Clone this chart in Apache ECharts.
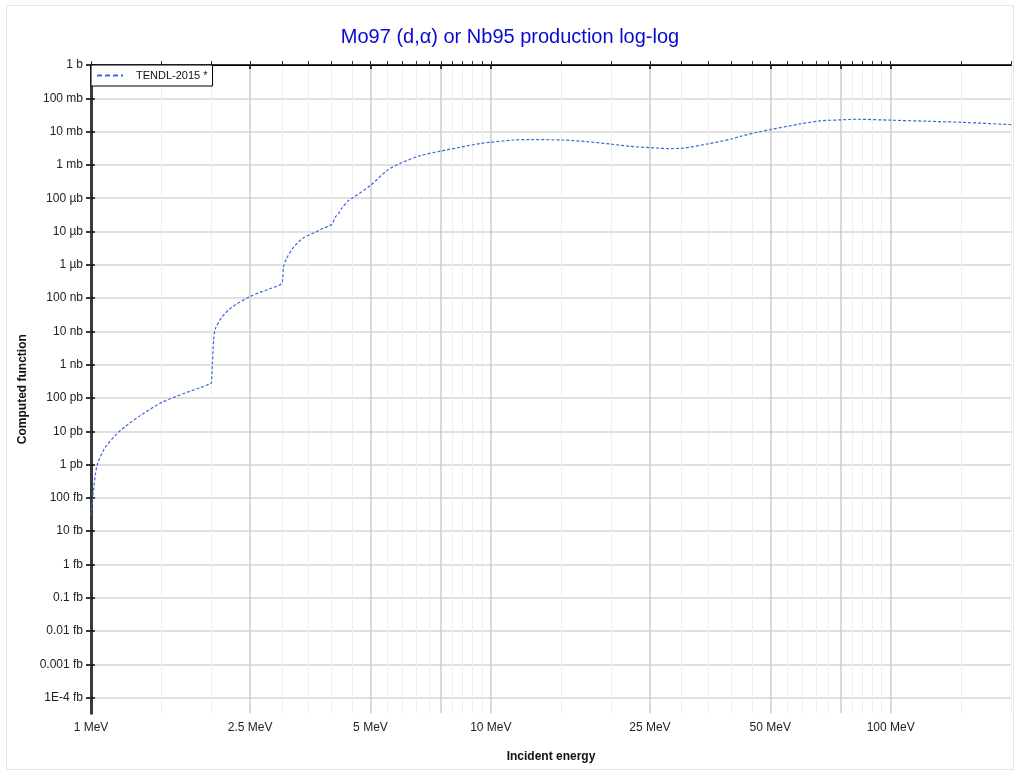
<!DOCTYPE html>
<html>
<head>
<meta charset="utf-8">
<title>Mo97 (d,α) or Nb95 production log-log</title>
<script src="https://cdn.jsdelivr.net/npm/echarts@6/dist/echarts.min.js"></script>
<style>
  html, body { margin: 0; padding: 0; background: #fff; }
  #chart { width: 1020px; height: 774px; }
</style>
</head>
<body>
<div id="chart"></div>
<script>
// incident energy (MeV) and cross section (barn)
const energyMeV = [1.0, 1.009, 1.035, 1.086, 1.184, 1.328, 1.505, 1.738, 1.877, 1.99,
  2.0, 2.012, 2.026, 2.046, 2.127, 2.253, 2.5, 2.755, 3.0, 3.03,
  3.08, 3.213, 3.402, 3.64, 3.745, 4.0, 4.083, 4.163, 4.246, 4.41,
  4.5, 5.0, 5.5, 5.94, 6.66, 7.5, 8.39, 9.41, 10, 11.4,
  12.56, 15, 17.4, 20, 22.3, 25, 27.6, 30, 35, 40,
  42.1, 47.2, 50, 59.4, 66.7, 75, 82.4, 100, 123.3, 150,
  200];
const sigmaBarn = [3.0e-14, 9.3e-14, 9.3e-13, 3.3e-12, 1.05e-11, 2.95e-11, 7.4e-11, 1.48e-10, 2.04e-10, 2.7e-10,
  2.8e-10, 1.07e-9, 5.4e-9, 1.2e-8, 2.7e-8, 5.4e-8, 1.12e-7, 1.78e-7, 2.8e-7, 8.5e-7,
  1.5e-6, 3.4e-6, 6.5e-6, 9.5e-6, 1.15e-5, 1.62e-5, 2.7e-5, 3.5e-5, 5.1e-5, 8.5e-5,
  1.0e-4, 2.4e-4, 6.8e-4, 1.12e-3, 1.9e-3, 2.6e-3, 3.4e-3, 4.4e-3, 4.8e-3, 5.6e-3,
  5.75e-3, 5.6e-3, 5.0e-3, 4.2e-3, 3.6e-3, 3.3e-3, 3.1e-3, 3.15e-3, 4.3e-3, 6.0e-3,
  7.2e-3, 1.0e-2, 1.15e-2, 1.7e-2, 2.1e-2, 2.25e-2, 2.35e-2, 2.2e-2, 2.05e-2, 1.9e-2,
  1.62e-2];

// axis ticks
const xLabelMeV = [1, 2.5, 5, 10, 25, 50, 100];
const xMajorMeV = [1, 2.5, 5, 7.5, 10, 25, 50, 75, 100];
const xMinorMeV = [1.5, 2, 3, 3.5, 4, 4.5, 5.5, 6, 6.5, 7, 8, 8.5, 9, 9.5,
  15, 20, 30, 35, 40, 45, 55, 60, 65, 70, 80, 85, 90, 95, 150, 200];
const yDecades = [-19, -18, -17, -16, -15, -14, -13, -12, -11, -10, -9, -8, -7, -6, -5, -4, -3, -2, -1, 0];
const yTickLabels = ['1E-4 fb', '0.001 fb', '0.01 fb', '0.1 fb', '1 fb', '10 fb', '100 fb',
  '1 pb', '10 pb', '100 pb', '1 nb', '10 nb', '100 nb', '1 µb', '10 µb', '100 µb',
  '1 mb', '10 mb', '100 mb', '1 b'];

const lg = v => Math.log10(v);
const xMin = 0, xMax = lg(200);
const yMin = -19.47, yMax = 0;
const font = '"Liberation Sans", Arial, sans-serif';

const chart = echarts.init(document.getElementById('chart'), null, { renderer: 'canvas' });

const baseX = {
  type: 'value', gridIndex: 0, min: xMin, max: xMax,
  axisLabel: { show: false },
  splitLine: { show: false },
  axisLine: { show: false },
  axisTick: { show: false }
};
const baseY = {
  type: 'value', gridIndex: 0, min: yMin, max: yMax,
  axisLabel: { show: false },
  splitLine: { show: false },
  axisLine: { show: false },
  axisTick: { show: false }
};

const option = {
  backgroundColor: '#fff',
  animation: false,
  title: {
    text: 'Mo97 (d,α) or Nb95 production log-log',
    left: 'center', top: 22,
    textStyle: { color: '#0a0acc', fontSize: 20, fontWeight: 'normal', fontFamily: font }
  },
  legend: {
    left: 91, top: 65,
    orient: 'vertical',
    backgroundColor: '#fff',
    borderColor: '#000', borderWidth: 1, borderRadius: 0,
    padding: [5, 5, 5, 5],
    itemWidth: 26, itemHeight: 12,
    textStyle: { fontSize: 11, color: '#111', fontFamily: font, padding: [0, 0, 0, 8] },
    itemStyle: { opacity: 0 },
    lineStyle: { width: 2, type: [5, 3] },
    data: ['TENDL-2015 *']
  },
  grid: { left: 91, right: 9, top: 65, bottom: 60.7, containLabel: false },
  xAxis: [
    // labels, major ticks (outside), major grid lines
    Object.assign({}, baseX, {
      position: 'bottom',
      name: 'Incident energy', nameLocation: 'middle', nameGap: 37,
      nameTextStyle: { fontSize: 12, fontWeight: 'bold', color: '#111', fontFamily: font },
      axisLine: { show: true, lineStyle: { color: '#000', width: 1.5 } },
      axisTick: { show: true, inside: false, length: 4, customValues: xMajorMeV.map(lg), lineStyle: { color: '#000', width: 1.5 } },
      axisLabel: {
        show: true, customValues: xLabelMeV.map(lg), margin: 8,
        fontSize: 12, color: '#222', fontFamily: font,
        formatter: v => (Math.round(Math.pow(10, v) * 10) / 10) + ' MeV'
      },
      splitLine: { show: true, lineStyle: { color: '#cdcdcd', width: 1.5 } }
    }),
    // minor grid lines
    Object.assign({}, baseX, {
      position: 'bottom',
      axisTick: { show: false, customValues: xMinorMeV.map(lg) },
      splitLine: { show: true, lineStyle: { color: '#eeeeee', width: 1 } }
    }),
    // inside ticks at bottom
    Object.assign({}, baseX, {
      position: 'bottom',
      axisTick: { show: true, inside: true, length: 4, customValues: xMajorMeV.concat(xMinorMeV).map(lg), lineStyle: { color: '#000', width: 1 } }
    }),
    // top border with inside ticks
    Object.assign({}, baseX, {
      position: 'top',
      axisLine: { show: true, lineStyle: { color: '#000', width: 1 } },
      axisTick: { show: true, inside: false, length: 4, customValues: xMajorMeV.concat(xMinorMeV).map(lg), lineStyle: { color: '#333', width: 1 } }
    })
  ],
  yAxis: [
    Object.assign({}, baseY, {
      position: 'left',
      name: 'Computed function', nameLocation: 'middle', nameGap: 60, nameRotate: 90,
      nameTextStyle: { fontSize: 12, fontWeight: 'bold', color: '#111', fontFamily: font },
      axisLine: { show: true, lineStyle: { color: '#333', width: 2 } },
      axisTick: { show: true, inside: false, length: 5, customValues: yDecades, lineStyle: { color: '#111', width: 1.5 } },
      axisLabel: {
        show: true, customValues: yDecades, margin: 8,
        fontSize: 12, color: '#222', fontFamily: font,
        formatter: v => yTickLabels[yDecades.indexOf(Math.round(v))]
      },
      splitLine: { show: true, lineStyle: { color: '#d6d6d6', width: 1.5 } }
    }),
    Object.assign({}, baseY, {
      position: 'left',
      axisTick: { show: true, inside: true, length: 4, customValues: yDecades, lineStyle: { color: '#111', width: 1.5 } }
    }),
    Object.assign({}, baseY, {
      position: 'right',
      axisLine: { show: true, lineStyle: { color: '#3a3a3a', width: 3 } },
      axisTick: { show: true, inside: true, length: 5, customValues: yDecades, lineStyle: { color: '#333', width: 1.5 } }
    })
  ],
  graphic: [{
    type: 'rect', silent: true, z: -1,
    shape: { x: 6.5, y: 5.5, width: 1007, height: 764 },
    style: { fill: 'none', stroke: '#e6e6e6', lineWidth: 1 }
  }],
  series: [{
    name: 'TENDL-2015 *',
    type: 'line',
    xAxisIndex: 0, yAxisIndex: 0,
    showSymbol: false, symbol: 'none',
    smooth: 0.25,
    color: '#3d66dd',
    lineStyle: { color: '#3d66dd', width: 1.2, type: [3, 2] },
    data: energyMeV.map((e, i) => [lg(e), lg(sigmaBarn[i])])
  }]
};

chart.setOption(option);
</script>
</body>
</html>
